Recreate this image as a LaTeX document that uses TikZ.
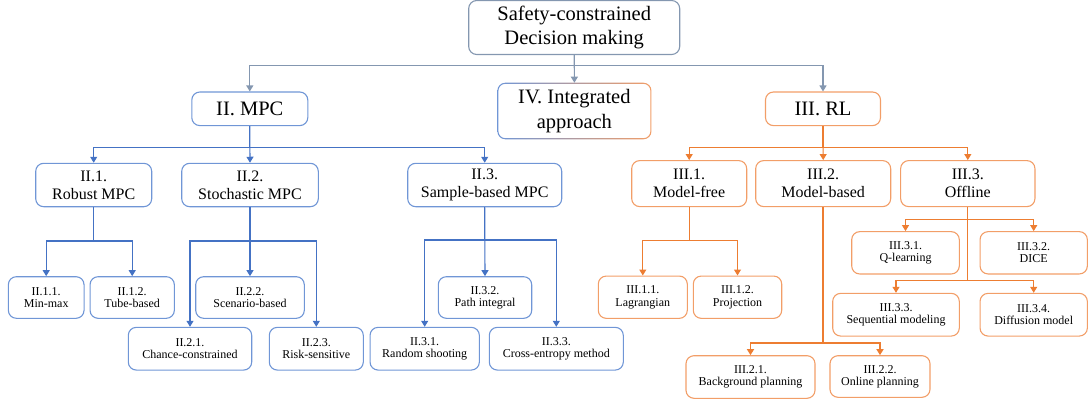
\documentclass[tikz,border=0pt]{standalone}
\usepackage{fontspec}
\setmainfont{Liberation Serif}
\usetikzlibrary{arrows.meta}
\definecolor{rootgray}{RGB}{132,151,176}
\definecolor{mpcblue}{RGB}{68,114,196}
\definecolor{mpcframe}{RGB}{112,150,214}
\definecolor{rlorange}{RGB}{237,125,49}
\definecolor{rlframe}{RGB}{242,158,104}

\begin{document}
\begin{tikzpicture}[x=1pt,y=-1pt,
	box/.style={draw,rounded corners=8pt,line width=1.1pt,align=center,inner sep=0pt},
	big/.style={box,font=\fontsize{20.5}{24.3}\selectfont},
	mid/.style={box,font=\fontsize{16}{18}\selectfont},
	leaf/.style={box,font=\fontsize{12}{12.3}\selectfont},
	mpcnode/.style={draw=mpcframe},
	rlnode/.style={draw=rlframe},
	grayarr/.style={draw=rootgray,line width=1.1pt,-{Triangle[width=7pt,length=6pt]}},
	bluearr/.style={draw=mpcblue,line width=1.1pt,-{Triangle[width=7pt,length=6pt]}},
	orangearr/.style={draw=rlorange,line width=1.1pt,-{Triangle[width=7pt,length=6pt]}}]
\useasboundingbox (0,0) rectangle (1088,402);

	\node[big,draw=rootgray,minimum width=211pt,minimum height=54pt] (root) at (574.2,27.5) {Safety-constrained\\Decision making};
	\node[big,mpcnode,minimum width=116pt,minimum height=33.6pt] (mpc) at (249.8,108.8) {II. MPC};
	\node[big,draw=none,minimum width=153pt,minimum height=55.5pt] (iv) at (574.4,111) {IV. Integrated\\approach};
	\node[big,rlnode,minimum width=115pt,minimum height=33.6pt] (rl) at (823,108.8) {III. RL};

	\node[mid,mpcnode,minimum width=116pt,minimum height=43.4pt] (ii1) at (93.7,185) {II.1.\\Robust MPC};
	\node[mid,mpcnode,minimum width=136.6pt,minimum height=43.4pt] (ii2) at (250,185) {II.2.\\Stochastic MPC};
	\node[mid,mpcnode,minimum width=154pt,minimum height=43.4pt] (ii3) at (484.7,185) {II.3.\\Sample-based MPC};
	\node[mid,rlnode,minimum width=115pt,minimum height=46pt] (iii1) at (689.2,183.6) {III.1.\\Model-free};
	\node[mid,rlnode,minimum width=135pt,minimum height=46pt] (iii2) at (823.2,183.6) {III.2.\\Model-based};
	\node[mid,rlnode,minimum width=134.3pt,minimum height=46pt] (iii3) at (967.8,183.6) {III.3.\\Offline};

	\node[leaf,mpcnode,minimum width=75.7pt,minimum height=41.6pt] (ii11) at (46.2,297.5) {II.1.1.\\Min-max};
	\node[leaf,mpcnode,minimum width=84.3pt,minimum height=41.6pt] (ii12) at (132.2,297.5) {II.1.2.\\Tube-based};
	\node[leaf,mpcnode,minimum width=123.4pt,minimum height=42.7pt] (ii21) at (190,348.7) {II.2.1.\\Chance-constrained};
	\node[leaf,mpcnode,minimum width=108.6pt,minimum height=41.6pt] (ii22) at (250,297.5) {II.2.2.\\Scenario-based};
	\node[leaf,mpcnode,minimum width=94pt,minimum height=42.7pt] (ii23) at (316.3,348.7) {II.2.3.\\Risk-sensitive};
	\node[leaf,mpcnode,minimum width=109.3pt,minimum height=42.7pt] (ii31) at (424.7,348.7) {II.3.1.\\Random shooting};
	\node[leaf,mpcnode,minimum width=93.4pt,minimum height=41.6pt] (ii32) at (485,297.5) {II.3.2.\\Path integral};
	\node[leaf,mpcnode,minimum width=134pt,minimum height=42.7pt] (ii33) at (556.3,348.7) {II.3.3.\\Cross-entropy method};

	\node[leaf,rlnode,minimum width=89pt,minimum height=42.3pt] (iii11) at (642.8,297.2) {III.1.1.\\Lagrangian};
	\node[leaf,rlnode,minimum width=88.4pt,minimum height=42.3pt] (iii12) at (737.5,297.2) {III.1.2.\\Projection};
	\node[leaf,rlnode,minimum width=129pt,minimum height=42.6pt] (iii21) at (750.5,377) {III.2.1.\\Background planning};
	\node[leaf,rlnode,minimum width=100pt,minimum height=41.6pt] (iii22) at (880,376.5) {III.2.2.\\Online planning};
	\node[leaf,rlnode,minimum width=107.6pt,minimum height=42.3pt] (iii31) at (905.5,252.8) {III.3.1.\\Q-learning};
	\node[leaf,rlnode,minimum width=107.3pt,minimum height=42.3pt] (iii32) at (1033.7,252.8) {III.3.2.\\DICE};
	\node[leaf,rlnode,minimum width=126.6pt,minimum height=42.7pt] (iii33) at (896,314.7) {III.3.3.\\Sequential modeling};
	\node[leaf,rlnode,minimum width=107.3pt,minimum height=42.7pt] (iii34) at (1033.7,314.7) {III.3.4.\\Diffusion model};

% frame of IV, blue to orange
\shade[left color=mpcframe,right color=rlframe,even odd rule]
	[rounded corners=8pt] (iv.south west) rectangle (iv.north east)
	[rounded corners=6.9pt] ([shift={(1.1,-1.1)}]iv.south west) rectangle ([shift={(-1.1,1.1)}]iv.north east);

% levels of the buses
\coordinate (topbus) at (0,65.9);
\coordinate (secbus) at (0,147.5);
\coordinate (ii1bus) at (0,241);
\coordinate (ii3bus) at (0,240);
\coordinate (iii1bus) at (0,240.7);
\coordinate (iii2bus) at (0,342.7);
\coordinate (iii3busa) at (0,219.3);
\coordinate (iii3busb) at (0,280.7);

\draw[grayarr] (root.south) -- (iv.north);
\draw[grayarr] (root.south) -- (root.south |- topbus) -| (mpc.north);
\draw[grayarr] (root.south) -- (root.south |- topbus) -| (rl.north);

\draw[bluearr] (mpc.south) -- (mpc.south |- secbus) -| (ii1.north);
\draw[bluearr] (mpc.south) -- (ii2.north);
\draw[bluearr] (mpc.south) -- (mpc.south |- secbus) -| (ii3.north);
\draw[bluearr] (ii1.south) -- (ii1.south |- ii1bus) -| (ii11.north);
\draw[bluearr] (ii1.south) -- (ii1.south |- ii1bus) -| (ii12.north);
\draw[bluearr] (ii2.south) -- (ii2.south |- ii1bus) -| (ii21.north);
\draw[bluearr] (ii2.south) -- (ii22.north);
\draw[bluearr] (ii2.south) -- (ii2.south |- ii1bus) -| (ii23.north);
\draw[bluearr] (ii3.south) -- (ii3.south |- ii3bus) -| (ii31.north);
\draw[bluearr] (ii3.south) -- (ii32.north);
\draw[bluearr] (ii3.south) -- (ii3.south |- ii3bus) -| (ii33.north);

\draw[orangearr] (rl.south) -- (rl.south |- secbus) -| (iii1.north);
\draw[orangearr] (rl.south) -- (iii2.north);
\draw[orangearr] (rl.south) -- (rl.south |- secbus) -| (iii3.north);
\draw[orangearr] (iii1.south) -- (iii1.south |- iii1bus) -| (iii11.north);
\draw[orangearr] (iii1.south) -- (iii1.south |- iii1bus) -| (iii12.north);
\draw[orangearr,line width=1.8pt] (iii2.south) -- (iii2.south |- iii2bus) -| (iii21.north);
\draw[orangearr,line width=1.8pt] (iii2.south) -- (iii2.south |- iii2bus) -| (iii22.north);
\draw[orangearr] (iii3.south) -- (iii3.south |- iii3busa) -| (iii31.north);
\draw[orangearr] (iii3.south) -- (iii3.south |- iii3busa) -| (iii32.north);
\draw[orangearr] (iii3.south) -- (iii3.south |- iii3busb) -| (iii33.north);
\draw[orangearr] (iii3.south) -- (iii3.south |- iii3busb) -| (iii34.north);

\end{tikzpicture}
\end{document}
